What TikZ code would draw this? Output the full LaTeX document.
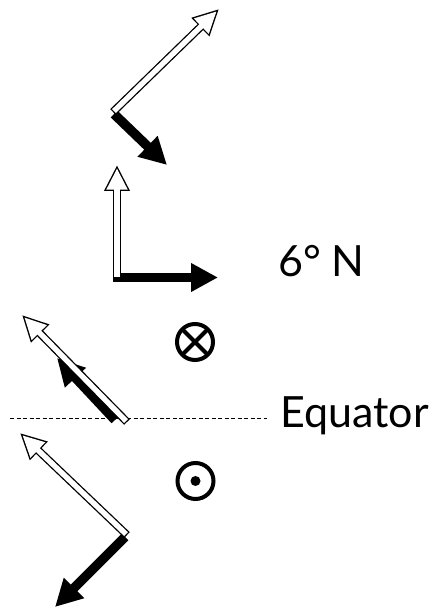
\documentclass[tikz,border=0pt]{standalone}
\usepackage{fontspec}
\setmainfont{Lato}
\usetikzlibrary{arrows.meta,calc}

\tikzset{
  hollowedge/.style={line width=8pt, -{Triangle[length=26pt,width=24pt]}},
  hollowfill/.style={white, line width=5.4pt, shorten <=1.3pt, shorten >=3.2pt,
    -{Triangle[length=21.5pt,width=19.8pt]}},
  heavy/.style={line width=9.5pt, -{Triangle[length=27pt,width=27pt]}},
  ring/.style={line width=4pt},
}
\newcommand{\hollowarrow}[2]{%
  \draw[hollowedge] (#1) -- (#2);
  \draw[hollowfill] (#1) -- (#2);
}

\begin{document}
\begin{tikzpicture}[x=1pt, y=1pt]
  \useasboundingbox (0,0) rectangle (429,609);

  % points of the four pairs
  \coordinate (wbase1) at (113,497);
  \coordinate (wtip1)  at (219,600);
  \coordinate (bbase1) at (114,495);
  \coordinate (btip1)  at (167,444);

  \coordinate (wbase2) at (117,331);
  \coordinate (wtip2)  at (117,444);
  \coordinate (bbase2) at (113,331.5);
  \coordinate (btip2)  at (218,331.5);

  \coordinate (wbase3) at (127,187);
  \coordinate (wtip3)  at (22,294);
  \coordinate (bbase3) at (115,189);
  \coordinate (btip3)  at (57,251);

  \coordinate (wbase4) at (127,74);
  \coordinate (wtip4)  at (20,176);
  \coordinate (bbase4) at (125,72);
  \coordinate (btip4)  at (55,2);

  % equator
  \coordinate (eqwest) at (10,191);
  \coordinate (eqeast) at (267,191);
  \draw[line width=0.8pt, dash pattern=on 4pt off 2.5pt] (eqwest) -- (eqeast);

  % arrows
  \foreach \i in {1,2,3,4} {
    \draw[heavy] (bbase\i) -- (btip\i);
    \hollowarrow{wbase\i}{wtip\i}
  }

  % labels
  \node[anchor=base west, font=\fontsize{43}{43}\selectfont, inner sep=0pt] (lat) at (278,332) {6° N};
  \node[anchor=base west, font=\fontsize{43}{43}\selectfont, inner sep=0pt] (eq) at (280,181) {Equator};

  % field into and out of the page
  \coordinate (into) at (195,267);
  \draw[ring] (into) circle (18);
  \draw[ring] ($(into)+(-12.7,-12.7)$) -- ($(into)+(12.7,12.7)$);
  \draw[ring] ($(into)+(-12.7,12.7)$) -- ($(into)+(12.7,-12.7)$);

  \coordinate (outof) at (195.5,128);
  \draw[ring] (outof) circle (18);
  \fill (outof) circle (5);
\end{tikzpicture}
\end{document}
